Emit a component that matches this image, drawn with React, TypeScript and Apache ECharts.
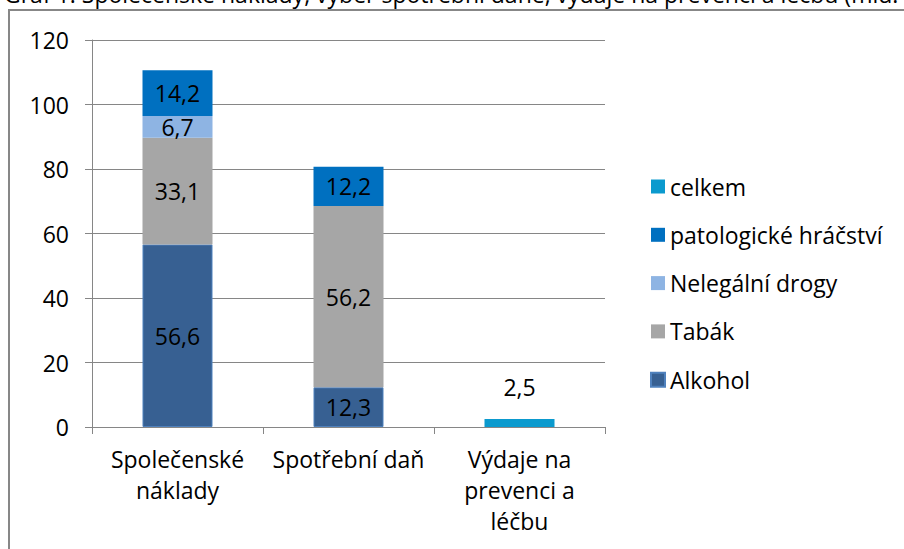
import React, { useEffect, useRef } from "react";
import * as echarts from "echarts";

const categories = ["Společenské\nnáklady", "Spotřební daň", "Výdaje na\nprevenci a\nléčbu"];
const alkohol = [56.6, 12.3, null];
const tabak = [33.1, 56.2, null];
const drogy = [6.7, null, null];
const hracstvi = [14.2, 12.2, null];
const celkem = [null, null, 2.5];
const yTicks = { min: 0, max: 120, interval: 20 };
const titleText = "Graf 1: Společenské náklady, výběr spotřební daně, výdaje na prevenci a léčbu (mld. Kč)";

const FONT = "'Open Sans'";
const FS = 23;

export default function App() {
  const ref = useRef<HTMLDivElement>(null);
  useEffect(() => {
    const chart = echarts.init(ref.current!, null, { renderer: "svg" });
    const fmt = (p: any) => (p.value == null ? "" : String(p.value).replace(".", ","));
    const label = { show: true, position: "inside", color: "#000", fontSize: FS, fontFamily: FONT, formatter: fmt };
    const mk = (name: string, data: any[], color: string, extra: any = {}) => ({
      name,
      type: "bar",
      stack: "s",
      data,
      barWidth: 70,
      itemStyle: { color, ...extra },
      label,
    });
    chart.setOption({
      animation: false,
      textStyle: { fontFamily: FONT },
      graphic: [
        {
          type: "rect",
          shape: { x: 9, y: 10, width: 1000, height: 700 },
          style: { fill: "none", stroke: "#878787", lineWidth: 2 },
          silent: true,
        },
        {
          type: "text",
          x: 4,
          y: -18,
          style: { text: titleText, font: `${FS}px ${FONT}`, fill: "#000" },
          silent: true,
        },
      ],
      grid: { left: 92, right: 299, top: 40, bottom: 122, containLabel: false },
      legend: {
        orient: "vertical",
        left: 645,
        top: 170,
        itemWidth: 14,
        itemHeight: 14,
        itemGap: 25.3,
        icon: "rect",
        data: ["celkem", "patologické hráčství", "Nelegální drogy", "Tabák", "Alkohol"],
        textStyle: { fontSize: FS, fontFamily: FONT, color: "#000", lineHeight: 23 },
      },
      xAxis: {
        type: "category",
        data: categories,
        axisLine: { lineStyle: { color: "#868686", width: 1 } },
        axisTick: { show: true, length: 7, lineStyle: { color: "#868686" } },
        axisLabel: { color: "#000", fontSize: FS, fontFamily: FONT, lineHeight: 31, margin: 16, interval: 0 },
      },
      yAxis: {
        type: "value",
        min: yTicks.min,
        max: yTicks.max,
        interval: yTicks.interval,
        axisLine: { show: true, lineStyle: { color: "#868686", width: 1 } },
        axisTick: { show: true, length: 7, lineStyle: { color: "#868686" } },
        axisLabel: { color: "#000", fontSize: FS, fontFamily: FONT, margin: 23 },
        splitLine: { lineStyle: { color: "#868686", width: 1 } },
      },
      series: [
        mk("Alkohol", alkohol, "#376092", { borderColor: "#4F81BD", borderWidth: 1 }),
        mk("Tabák", tabak, "#A6A6A6"),
        mk("Nelegální drogy", drogy, "#8EB4E3"),
        mk("patologické hráčství", hracstvi, "#0070C0"),
        {
          ...mk("celkem", celkem, "#0B9ACE"),
          label: { ...label, position: "top", distance: 20 },
        },
      ],
    });
    return () => chart.dispose();
  }, []);
  return (
    <div
      ref={ref}
      style={{ position: "fixed", left: 0, top: 0, width: 904, height: 549, background: "#fff" }}
    />
  );
}
